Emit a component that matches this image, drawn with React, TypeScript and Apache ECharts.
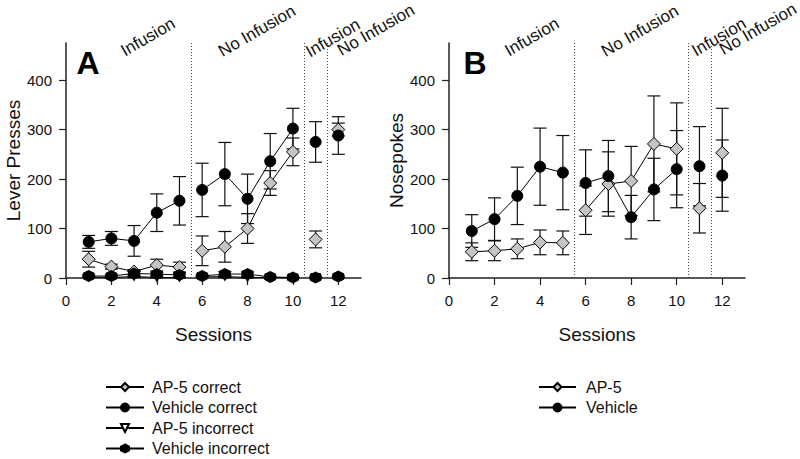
import React, { useEffect, useRef } from 'react';
import * as echarts from 'echarts';

// ---- data ----
const sessions = [1, 2, 3, 4, 5, 6, 7, 8, 9, 10, 11, 12];
const yTicks = [0, 100, 200, 300, 400];
const xTicks = [0, 2, 4, 6, 8, 10, 12];
const phaseBreaks = [5.5, 10.5, 11.5];
const phaseLabels = ['Infusion', 'No Infusion', 'Infusion', 'No Infusion'];
const segments = [[1, 5], [6, 10], [11, 11], [12, 12]];

// Panel A: lever presses
const apCorrectA = [38, 23, 13, 26, 22, 55, 63, 100, 192, 255, 78, 300];
const apCorrectSemA = [16, 5, 4, 12, 10, 30, 31, 30, 25, 28, 17, 13];
const vehCorrectA = [73, 80, 75, 132, 156, 178, 210, 160, 236, 302, 275, 288];
const vehCorrectSemA = [13, 14, 31, 38, 49, 54, 64, 50, 56, 41, 41, 38];
const apIncorrectA = [2, 1, 3, 1, 1, 2, 3, 1, 1, 0, 1, 1];
const apIncorrectSemA = [1, 1, 2, 1, 1, 1, 2, 1, 0, 0, 0, 0];
const vehIncorrectA = [4, 4, 9, 8, 6, 4, 8, 8, 2, 1, 1, 3];
const vehIncorrectSemA = [2, 2, 6, 3, 3, 2, 5, 4, 1, 1, 1, 1];

// Panel B: nosepokes
const apB = [53, 55, 59, 72, 71, 137, 190, 196, 271, 261, 141, 253];
const apSemB = [18, 20, 20, 25, 24, 49, 65, 70, 97, 93, 50, 90];
const vehB = [95, 119, 166, 225, 213, 192, 206, 123, 179, 220, 226, 207];
const vehSemB = [33, 43, 58, 78, 75, 67, 72, 44, 63, 78, 80, 72];

const FONT = '"Liberation Sans", Arial, Helvetica, sans-serif';
const HEX = 'path://M0,-1 L0.87,-0.5 L0.87,0.5 L0,1 L-0.87,0.5 L-0.87,-0.5 Z';
const TRI = 'path://M0,0 L2,0 L1,1.7 Z';

function lineSeries(name: string, values: number[], grid: number, symbol: string, size: any, fill: string, z: number) {
  return segments.map(([a, b]) => ({
    type: 'line',
    name,
    xAxisIndex: grid,
    yAxisIndex: grid,
    data: sessions.filter((s) => s >= a && s <= b).map((s) => [s, values[s - 1]]),
    symbol,
    symbolSize: size,
    showSymbol: true,
    showAllSymbol: true,
    itemStyle: { color: fill, borderColor: '#000', borderWidth: 1, opacity: 1 },
    lineStyle: { color: '#000', width: 1 },
    z,
    silent: true,
    emphasis: { disabled: true },
  }));
}

function errSeries(values: number[], sems: number[], grid: number) {
  return {
    type: 'custom',
    xAxisIndex: grid,
    yAxisIndex: grid,
    silent: true,
    z: 1,
    data: sessions.map((s, i) => [s, values[i] - sems[i], values[i] + sems[i]]),
    encode: { x: 0, y: [1, 2] },
    renderItem: (params: any, api: any) => {
      const x = api.value(0);
      const top = api.coord([x, api.value(2)]);
      const bot = api.coord([x, api.value(1)]);
      const w = 6.5;
      const st = { stroke: '#111', lineWidth: 1.2 };
      return {
        type: 'group',
        children: [
          { type: 'line', shape: { x1: top[0], y1: top[1], x2: bot[0], y2: bot[1] }, style: st },
          { type: 'line', shape: { x1: top[0] - w, y1: top[1], x2: top[0] + w, y2: top[1] }, style: st },
          { type: 'line', shape: { x1: bot[0] - w, y1: bot[1], x2: bot[0] + w, y2: bot[1] }, style: st },
        ],
      };
    },
  };
}

function breakLines(grid: number) {
  return {
    type: 'line',
    xAxisIndex: grid,
    yAxisIndex: grid,
    data: [],
    silent: true,
    markLine: {
      silent: true,
      symbol: ['none', 'none'],
      label: { show: false },
      lineStyle: { type: [1, 2], color: '#444', width: 1 },
      data: phaseBreaks.map((b) => ({ xAxis: b })),
    },
  };
}

function xAxis(grid: number) {
  return {
    type: 'value',
    gridIndex: grid,
    min: 0,
    max: 13,
    name: 'Sessions',
    nameLocation: 'middle',
    nameGap: 47,
    nameTextStyle: { fontSize: 19, fontFamily: FONT, color: '#111' },
    axisLine: { show: true, lineStyle: { color: '#222', width: 1.5 } },
    axisTick: { show: true, length: 7, lineStyle: { color: '#222', width: 1.2 }, customValues: xTicks },
    axisLabel: { fontSize: 15, fontFamily: FONT, color: '#111', margin: 15, customValues: xTicks },
    splitLine: { show: false },
  };
}

function yAxis(grid: number, name: string, gap: number) {
  return {
    type: 'value',
    gridIndex: grid,
    min: 0,
    max: 475,
    name,
    nameLocation: 'middle',
    nameGap: gap,
    nameTextStyle: { fontSize: 19, fontFamily: FONT, color: '#111' },
    axisLine: { show: true, lineStyle: { color: '#222', width: 1.5 } },
    axisTick: { show: true, length: 7, lineStyle: { color: '#222', width: 1.2 }, customValues: yTicks },
    axisLabel: { fontSize: 15, fontFamily: FONT, color: '#111', margin: 14, customValues: yTicks },
    splitLine: { show: false },
  };
}

function rotText(text: string, x: number, y: number) {
  return {
    type: 'text',
    x,
    y,
    rotation: Math.PI / 6,
    style: { text, font: `17px ${FONT}`, fill: '#111', textAlign: 'center', textVerticalAlign: 'middle' },
    silent: true,
  };
}

const phasePosA = [[148, 37], [257, 31], [333, 38], [376, 30]];
const phasePosB = [[532, 37], [640, 31], [719, 37], [758, 29]];

export default function App() {
  const ref = useRef<HTMLDivElement>(null);
  useEffect(() => {
    if (!ref.current) return;
    const chart = echarts.init(ref.current, undefined, { renderer: 'svg' });
    const legendText = { fontSize: 16, fontFamily: FONT, color: '#111', lineHeight: 16, padding: [0, 0, 0, 3] };
    const option: any = {
      animation: false,
      backgroundColor: '#fff',
      textStyle: { fontFamily: FONT },
      grid: [
        { left: 66, top: 43, right: 439, bottom: 181 },
        { left: 449, top: 43, right: 55, bottom: 181 },
      ],
      xAxis: [xAxis(0), xAxis(1)],
      yAxis: [yAxis(0, 'Lever Presses', 34), yAxis(1, 'Nosepokes', 27)],
      legend: [
        {
          left: 100, top: 374, height: 90, orient: 'vertical', selectedMode: false,
          data: ['AP-5 correct', 'Vehicle correct', 'AP-5 incorrect', 'Vehicle incorrect'],
          itemWidth: 38, itemHeight: 10, itemGap: 4.5, textStyle: legendText,
        },
        {
          left: 533, top: 374, height: 50, orient: 'vertical', selectedMode: false,
          data: ['AP-5', 'Vehicle'],
          itemWidth: 37, itemHeight: 10, itemGap: 4.5, textStyle: { ...legendText, padding: [0, 0, 0, 5] },
        },
      ],
      graphic: [
        { type: 'text', x: 88, y: 63, style: { text: 'A', font: `bold 32px ${FONT}`, fill: '#000', textAlign: 'center', textVerticalAlign: 'middle' }, silent: true },
        { type: 'text', x: 475, y: 63, style: { text: 'B', font: `bold 32px ${FONT}`, fill: '#000', textAlign: 'center', textVerticalAlign: 'middle' }, silent: true },
        ...phaseLabels.map((t, i) => rotText(t, phasePosA[i][0], phasePosA[i][1])),
        ...phaseLabels.map((t, i) => rotText(t, phasePosB[i][0], phasePosB[i][1])),
      ],
      series: [
        breakLines(0),
        breakLines(1),
        errSeries(apCorrectA, apCorrectSemA, 0),
        errSeries(vehCorrectA, vehCorrectSemA, 0),
        errSeries(apIncorrectA, apIncorrectSemA, 0),
        errSeries(vehIncorrectA, vehIncorrectSemA, 0),
        errSeries(apB, apSemB, 1),
        errSeries(vehB, vehSemB, 1),
        ...lineSeries('AP-5 correct', apCorrectA, 0, 'diamond', 13, '#c4c4c4', 3),
        ...lineSeries('Vehicle correct', vehCorrectA, 0, 'circle', 11, '#000', 4),
        ...lineSeries('AP-5 incorrect', apIncorrectA, 0, TRI, [9, 8], '#fff', 5),
        ...lineSeries('Vehicle incorrect', vehIncorrectA, 0, HEX, [11, 11], '#000', 6),
        ...lineSeries('AP-5', apB, 1, 'diamond', 13, '#c4c4c4', 3),
        ...lineSeries('Vehicle', vehB, 1, 'circle', 11, '#000', 4),
      ],
    };
    chart.setOption(option);
    return () => chart.dispose();
  }, []);
  return (
    <div
      ref={ref}
      style={{ position: 'fixed', left: 0, top: 0, width: 800, height: 459, background: '#fff' }}
    />
  );
}
